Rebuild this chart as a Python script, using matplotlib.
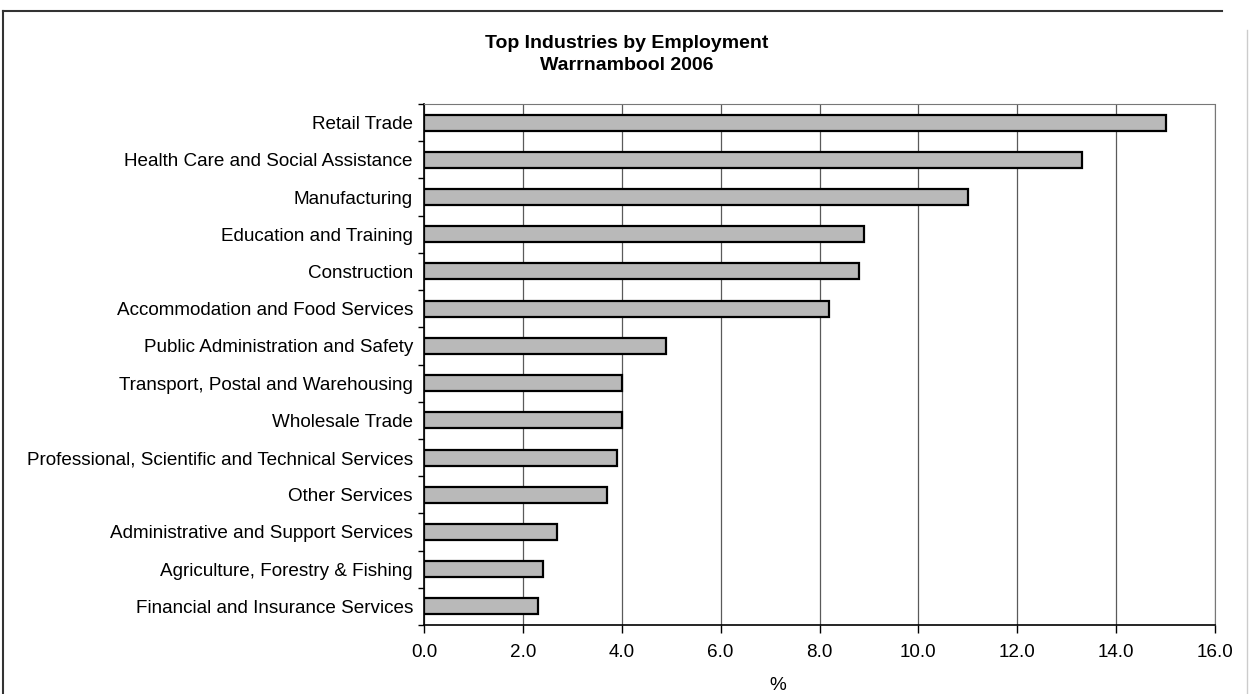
import matplotlib
matplotlib.use("Agg")
import matplotlib.pyplot as plt
from matplotlib.lines import Line2D
import numpy as np

plt.rcParams['font.family'] = ['Liberation Sans', 'DejaVu Sans']

industries = [
    "Retail Trade",
    "Health Care and Social Assistance",
    "Manufacturing",
    "Education and Training",
    "Construction",
    "Accommodation and Food Services",
    "Public Administration and Safety",
    "Transport, Postal and Warehousing",
    "Wholesale Trade",
    "Professional, Scientific and Technical Services",
    "Other Services",
    "Administrative and Support Services",
    "Agriculture, Forestry & Fishing",
    "Financial and Insurance Services",
]
percent = [15.0, 13.3, 11.0, 8.9, 8.8, 8.2, 4.9, 4.0, 4.0, 3.9, 3.7, 2.7, 2.4, 2.3]
xticks = [0, 2, 4, 6, 8, 10, 12, 14, 16]
xtick_labels = ["0.0", "2.0", "4.0", "6.0", "8.0", "10.0", "12.0", "14.0", "16.0"]

W, H = 1249, 694
fig = plt.figure(figsize=(W / 100, H / 100), dpi=100)
ax = fig.add_axes([424/W, 1-625/H, (1215-424)/W, (625-104)/H])

y = np.arange(len(industries))
ax.barh(y, percent, height=0.43, color="#b9b9b9", edgecolor="black",
        linewidth=1.6, zorder=3)
ax.set_ylim(len(industries) - 0.5, -0.5)
ax.set_xlim(0, 16)

ax.set_xticks(xticks)
ax.set_xticklabels(xtick_labels, fontsize=13.6)
ax.set_yticks(y)
ax.set_yticklabels(industries, fontsize=13.6)
ax.tick_params(axis='y', length=0, pad=8)
ax.set_yticks(np.arange(len(industries) + 1) - 0.5, minor=True)
ax.tick_params(axis='y', which='minor', length=4, direction='out', width=1)
ax.tick_params(axis='x', length=6, direction='out', width=1, pad=8)

ax.grid(axis='x', color="#5a5a5a", linewidth=0.9, zorder=0)
for side in ['top', 'right']:
    ax.spines[side].set_color('#777777')
    ax.spines[side].set_linestyle((0, (1, 1)))
for side in ['left', 'bottom']:
    ax.spines[side].set_color('black')
    ax.spines[side].set_linewidth(1.2)

fig.text(778/W, 1-686/H, "%", ha='center', va='center', fontsize=13.6)

fig.text(627/W, 1-43/H, "Top Industries by Employment", ha='center', va='center',
         fontsize=14, fontweight='bold')
fig.text(627/W, 1-66/H, "Warrnambool 2006", ha='center', va='center',
         fontsize=14, fontweight='bold')

# outer frame (left, top, faint right)
fig.add_artist(Line2D([3/W, 3/W], [0, 1-11/H], transform=fig.transFigure,
                      color='#333333', linewidth=1.5))
fig.add_artist(Line2D([3/W, 1222/W], [1-11/H, 1-11/H], transform=fig.transFigure,
                      color='#333333', linewidth=1.5))
fig.add_artist(Line2D([1247/W, 1247/W], [0, 1-30/H], transform=fig.transFigure,
                      color='#cccccc', linewidth=1))

fig.savefig("out.png", dpi=100)
